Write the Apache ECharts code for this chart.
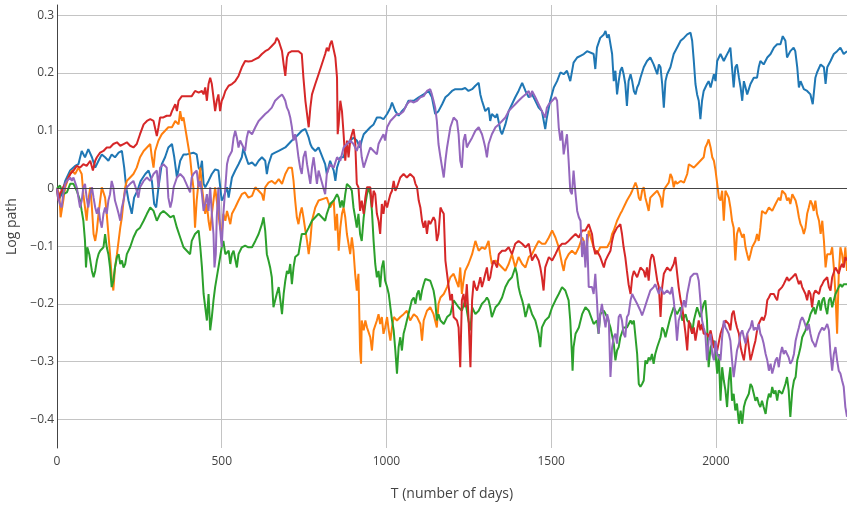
<!DOCTYPE html>
<html>
<head>
<meta charset="utf-8">
<script src="https://cdn.jsdelivr.net/npm/echarts@6/dist/echarts.min.js"></script>
<style>
  html, body { margin: 0; padding: 0; background: #fff; }
  #chart { width: 847px; height: 507px; }
</style>
</head>
<body>
<div id="chart"></div>
<script>
// [day, log path]
const pathBlue = [[0,0],[4,-0.021],[14,-0.010],[25,0.013],[40,0.031],[55,0.039],[65,0.042],[75,0.065],[85,0.054],[95,0.068],[106,0.054],[116,0.036],[126,0.048],[136,0.059],[146,0.054],[156,0.048],[166,0.059],[176,0.054],[187,0.062],[197,0.065],[204,0.036],[210,0.002],[217,-0.021],[227,-0.044],[234,-0.016],[244,-0.004],[254,0.013],[268,0.025],[278,0.031],[288,0.013],[295,-0.027],[301,-0.033],[308,0.002],[318,0.042],[328,0.054],[338,0.071],[349,0.077],[356,0.054],[364,0.019],[374,0.048],[384,0.059],[394,0.059],
  [414,0.062],[424,0.059],[430,0.036],[435,0.031],[440,0.048],[445,0.008],[450,0.002],[460,0.013],[470,0.025],[480,0.033],[490,0.031],[500,-0.021],[505,-0.016],[516,0.002],[521,-0.016],[531,0.019],[541,0.031],[551,0.042],[561,0.054],[566,0.071],[571,0.059],[581,0.042],[592,0.045],[602,0.039],[612,0.048],[622,0.054],[632,0.048],[637,0.025],[642,0.042],[652,0.059],[662,0.062],[673,0.065],[683,0.068],[693,0.071],[703,0.077],[713,0.083],[723,0.088],[733,0.094],[743,0.100],[754,0.103],[764,0.088],[769,0.077],[774,0.071],[784,0.065],[794,0.071],
  [814,0.042],[819,0.025],[829,0.048],[840,0.031],[845,0.013],[850,0.036],[860,0.054],[870,0.054],[880,0.077],[890,0.083],[900,0.088],[910,0.083],[920,0.071],[925,0.083],[931,0.094],[941,0.100],[951,0.106],[961,0.111],[971,0.123],[981,0.123],[991,0.120],[1002,0.129],[1012,0.140],[1017,0.149],[1027,0.134],[1037,0.126],[1047,0.134],[1057,0.140],[1067,0.152],[1083,0.152],[1098,0.158],[1113,0.163],[1128,0.169],[1138,0.158],[1148,0.129],[1158,0.134],[1169,0.146],[1179,0.158],[1189,0.163],[1199,0.169],
  [1209,0.172],[1229,0.172],[1239,0.174],[1249,0.169],[1260,0.172],[1270,0.178],[1280,0.183],[1285,0.163],[1290,0.152],[1300,0.134],[1310,0.140],[1315,0.117],[1320,0.129],[1331,0.123],[1336,0.129],[1346,0.100],[1351,0.094],[1361,0.111],[1371,0.134],[1381,0.146],[1391,0.158],[1401,0.169],[1412,0.183],[1422,0.169],[1432,0.158],[1442,0.163],[1452,0.152],[1462,0.140],[1472,0.134],[1482,0.103],[1487,0.123],[1497,0.152],[1508,0.175],[1518,0.186],[1528,0.201],[1538,0.198],[1548,0.204],[1558,0.186],[1568,0.218],[1579,0.227],[1589,0.230],[1599,0.233],[1609,0.238],
  [1629,0.233],[1634,0.207],[1639,0.244],[1649,0.261],[1660,0.267],[1665,0.273],[1670,0.261],[1675,0.267],[1685,0.233],[1690,0.186],[1695,0.204],[1700,0.163],[1705,0.186],[1710,0.204],[1715,0.210],[1720,0.198],[1725,0.181],[1730,0.143],[1735,0.186],[1741,0.198],[1746,0.186],[1751,0.169],[1756,0.163],[1761,0.175],[1766,0.181],[1771,0.192],[1781,0.210],[1791,0.221],[1801,0.227],[1811,0.215],[1822,0.198],[1827,0.215],[1832,0.210],[1837,0.181],[1842,0.140],[1847,0.186],[1852,0.198],[1862,0.210],[1872,0.233],[1882,0.244],[1893,0.256],[1903,0.261],[1913,0.267],[1923,0.270],[1928,0.256],[1933,0.221],[1938,0.181],[1943,0.163],[1948,0.152],[1953,0.120],[1958,0.152],[1963,0.169],[1968,0.175],[1973,0.181],[1978,0.186],[1984,0.175],[1994,0.198],[1999,0.186],[2004,0.221],[2014,0.233],[2024,0.221],
  [2029,0.227],[2039,0.238],[2044,0.244],[2049,0.210],[2054,0.175],[2059,0.210],[2064,0.215],[2070,0.192],[2075,0.175],[2080,0.152],[2085,0.186],[2090,0.175],[2095,0.163],[2105,0.181],[2115,0.192],[2125,0.192],[2130,0.210],[2135,0.221],[2145,0.215],[2156,0.227],[2166,0.233],[2176,0.244],[2186,0.250],[2196,0.250],[2203,0.264],[2211,0.256],[2216,0.227],[2221,0.224],[2226,0.238],[2236,0.244],[2241,0.238],[2247,0.210],[2252,0.175],[2257,0.186],[2267,0.172],[2277,0.169],[2287,0.163],[2294,0.146],[2302,0.192],[2307,0.201],[2318,0.215],[2328,0.210],[2333,0.181],[2338,0.210],[2348,0.221],[2358,0.233],[2368,0.238],[2378,0.244],[2388,0.233],[2398,0.238]];

const pathOrange = [[0,0],[7,-0.010],[11,-0.050],[19,-0.021],[25,0.002],[35,0.019],[45,0.031],[55,0.025],[65,0.036],[75,0.025],[80,-0.010],[85,-0.033],[90,-0.056],[95,-0.021],[101,0.002],[106,-0.033],[111,-0.079],[116,-0.091],[121,-0.073],[126,-0.044],[131,-0.021],[136,0.002],[146,-0.016],[151,-0.044],[156,-0.079],[161,-0.114],[166,-0.154],[171,-0.177],[176,-0.137],[182,-0.114],[187,-0.091],[192,-0.068],[197,-0.050],[202,-0.021],[207,0.002],[212,0.013],[222,0.019],[232,0.025],[242,0.036],[252,0.054],[263,0.065],[273,0.071],[283,0.077],[288,0.054],[293,0.036],[298,0.065],[308,0.083],[318,0.094],[328,0.100],[338,0.106],[349,0.106],[359,0.117],[369,0.111],[374,0.134],[379,0.117],[384,0.123],
  [404,0.054],[409,0.025],[414,0.002],[419,-0.068],[424,-0.021],[430,0.013],[435,0.036],[440,0.002],[445,-0.021],[450,-0.044],[455,-0.027],[460,-0.056],[465,-0.073],[470,-0.044],[475,-0.021],[480,0.002],[485,-0.021],[490,-0.044],[495,-0.068],[500,-0.079],[505,-0.044],[511,-0.056],[516,-0.039],[521,-0.050],[526,-0.062],[531,-0.044],[541,-0.033],[551,-0.021],[561,-0.010],[571,-0.007],[581,-0.016],[592,-0.013],[602,0.002],[612,-0.004],[622,-0.010],[627,-0.021],[632,0.002],[642,0.010],[652,0.013],[662,0.008],[673,0.016],[683,0.008],[693,0.025],[703,0.036],[708,0.039],[713,0.036],[718,0.013],[723,-0.021],[728,-0.050],[733,-0.062],[738,-0.044],[743,-0.033],[748,-0.050],[754,-0.073],[759,-0.091],[764,-0.114],[769,-0.091],[774,-0.056],[784,-0.033],[794,-0.021],
  [819,-0.016],[829,-0.033],[840,-0.021],[845,-0.073],[850,-0.044],[855,-0.108],[860,-0.068],[865,-0.044],[870,-0.033],[875,-0.050],[880,-0.079],[890,-0.114],[895,-0.085],[900,-0.108],[905,-0.148],[910,-0.177],[915,-0.148],[920,-0.281],[923,-0.304],[925,-0.229],[931,-0.246],[936,-0.229],[941,-0.241],[951,-0.258],[956,-0.281],[961,-0.246],[971,-0.229],[976,-0.218],[981,-0.235],[986,-0.223],[991,-0.252],[996,-0.241],[1002,-0.223],[1007,-0.246],[1012,-0.264],[1017,-0.241],[1022,-0.223],[1032,-0.229],[1042,-0.223],[1052,-0.218],[1062,-0.212],[1072,-0.229],[1083,-0.218],[1093,-0.223],[1103,-0.235],[1108,-0.264],[1113,-0.229],[1123,-0.212],[1133,-0.206],[1143,-0.218],[1153,-0.241],[1158,-0.200],[1164,-0.189],[1174,-0.183],[1184,-0.171],[1194,-0.154],[1204,-0.148],
  [1219,-0.171],[1224,-0.137],[1229,-0.183],[1234,-0.160],[1239,-0.143],[1249,-0.131],[1260,-0.114],[1270,-0.091],[1280,-0.108],[1290,-0.102],[1300,-0.105],[1310,-0.091],[1315,-0.114],[1320,-0.131],[1331,-0.125],[1341,-0.131],[1351,-0.137],[1361,-0.143],[1371,-0.131],[1381,-0.114],[1391,-0.137],[1401,-0.119],[1412,-0.131],[1422,-0.137],[1432,-0.119],[1442,-0.114],[1452,-0.102],[1462,-0.091],[1472,-0.096],[1482,-0.096],[1493,-0.085],[1503,-0.073],[1513,-0.085],[1523,-0.102],[1533,-0.131],[1538,-0.143],[1543,-0.125],[1553,-0.114],[1563,-0.108],[1574,-0.114],[1584,-0.102],[1594,-0.085],[1599,-0.091],[1604,-0.119],[1614,-0.073],
  [1629,-0.102],[1639,-0.114],[1649,-0.102],[1660,-0.102],[1670,-0.102],[1680,-0.091],[1685,-0.079],[1690,-0.073],[1700,-0.056],[1710,-0.044],[1715,-0.039],[1720,-0.039],[1730,-0.021],[1741,-0.010],[1746,-0.004],[1751,-0.007],[1756,0.010],[1761,0.002],[1766,-0.016],[1771,-0.021],[1776,-0.004],[1781,0.002],[1786,-0.016],[1791,-0.027],[1796,-0.039],[1801,-0.016],[1811,-0.010],[1822,-0.004],[1832,-0.016],[1837,-0.033],[1842,-0.004],[1847,0.002],[1852,0.002],[1857,0.010],[1862,0.025],[1867,0.019],[1872,0.002],[1877,0.013],[1882,0.008],[1893,0.013],[1903,0.010],[1913,0.025],[1918,0.042],[1923,0.045],[1933,0.036],[1943,0.042],[1953,0.048],[1963,0.054],[1968,0.071],[1973,0.077],[1978,0.085],[1984,0.071],[1989,0.054],[1994,0.048],[1999,0.031],[2004,0.008],[2009,-0.016],[2014,-0.021],[2019,-0.004],[2024,-0.056],
  [2029,-0.004],[2034,-0.004],[2039,-0.016],[2044,-0.033],[2049,-0.056],[2054,-0.068],[2059,-0.125],[2064,-0.079],[2070,-0.068],[2075,-0.068],[2080,-0.085],[2085,-0.079],[2090,-0.102],[2095,-0.114],[2100,-0.125],[2105,-0.114],[2110,-0.102],[2120,-0.091],[2125,-0.079],[2130,-0.091],[2135,-0.068],[2140,-0.039],[2151,-0.044],[2161,-0.033],[2171,-0.039],[2181,-0.027],[2191,-0.016],[2196,-0.021],[2201,-0.004],[2206,-0.001],[2211,-0.010],[2216,-0.021],[2221,-0.016],[2226,-0.027],[2232,-0.010],[2237,-0.007],[2242,-0.021],[2247,-0.033],[2252,-0.050],[2257,-0.062],[2262,-0.068],[2267,-0.079],[2272,-0.068],[2277,-0.044],[2282,-0.033],[2287,-0.021],[2292,-0.027],[2297,-0.039],[2302,-0.021],[2307,-0.044],[2313,-0.056],[2318,-0.079],[2323,-0.056],[2328,-0.091],[2333,-0.137],[2338,-0.114],[2348,-0.114],[2353,-0.102],[2358,-0.137],[2363,-0.183],[2368,-0.252],[2373,-0.148],[2378,-0.102],[2383,-0.114],[2388,-0.137],[2393,-0.102],[2398,-0.143]];

const pathGreen = [[0,0],[9,0.005],[19,-0.010],[30,-0.007],[40,0.008],[50,0.008],[60,-0.004],[70,-0.021],[75,-0.039],[80,-0.056],[85,-0.091],[88,-0.137],[92,-0.102],[98,-0.114],[106,-0.143],[111,-0.154],[116,-0.143],[121,-0.125],[126,-0.114],[131,-0.108],[141,-0.102],[146,-0.079],[151,-0.102],[156,-0.114],[161,-0.137],[166,-0.171],[171,-0.160],[176,-0.137],[182,-0.119],[187,-0.114],[192,-0.131],[197,-0.125],[202,-0.137],[207,-0.131],[212,-0.114],[222,-0.102],[232,-0.085],[242,-0.073],[252,-0.068],[263,-0.056],[273,-0.044],[283,-0.033],[293,-0.039],[303,-0.056],[313,-0.044],[323,-0.039],[333,-0.044],[344,-0.050],[354,-0.047],[364,-0.068],[374,-0.085],[384,-0.102],
  [404,-0.114],[409,-0.091],[419,-0.079],[430,-0.073],[435,-0.102],[440,-0.137],[445,-0.183],[450,-0.206],[455,-0.229],[460,-0.183],[465,-0.246],[470,-0.223],[475,-0.194],[480,-0.171],[490,-0.137],[500,-0.102],[505,-0.091],[511,-0.114],[521,-0.108],[526,-0.131],[531,-0.114],[536,-0.108],[546,-0.137],[551,-0.114],[561,-0.102],[571,-0.099],[581,-0.102],[592,-0.102],[602,-0.091],[612,-0.079],[622,-0.062],[627,-0.050],[632,-0.073],[637,-0.114],[642,-0.125],[647,-0.137],[652,-0.154],[657,-0.206],[662,-0.206],[667,-0.183],[673,-0.171],[678,-0.194],[683,-0.218],[688,-0.183],[693,-0.160],[698,-0.143],[703,-0.148],[708,-0.131],[713,-0.166],[718,-0.137],[723,-0.119],[733,-0.114],[738,-0.096],[743,-0.079],[754,-0.079],[764,-0.068],[774,-0.056],[784,-0.050],[794,-0.044],
  [814,-0.056],[819,-0.044],[829,-0.027],[840,-0.021],[850,-0.010],[855,-0.016],[860,-0.033],[865,-0.021],[870,-0.033],[875,-0.010],[880,0.008],[885,0.010],[890,0.002],[895,-0.004],[900,-0.033],[905,-0.050],[910,-0.068],[915,-0.044],[920,-0.079],[925,-0.091],[931,-0.050],[936,-0.027],[941,-0.010],[946,0.002],[951,-0.010],[956,-0.039],[961,-0.091],[966,-0.131],[971,-0.154],[976,-0.143],[981,-0.171],[986,-0.137],[991,-0.125],[996,-0.160],[1002,-0.171],[1007,-0.183],[1012,-0.206],[1017,-0.229],[1022,-0.246],[1027,-0.281],[1032,-0.321],[1037,-0.275],[1042,-0.258],[1047,-0.281],[1052,-0.252],[1057,-0.241],[1062,-0.229],[1072,-0.206],[1077,-0.194],[1083,-0.189],[1088,-0.200],[1093,-0.183],[1098,-0.177],[1103,-0.194],[1108,-0.177],[1113,-0.166],[1118,-0.157],[1123,-0.154],[1133,-0.160],[1143,-0.177],[1148,-0.194],[1153,-0.229],[1158,-0.218],[1164,-0.229],[1174,-0.235],[1184,-0.223],[1194,-0.218],[1204,-0.194],
  [1219,-0.206],[1229,-0.212],[1239,-0.194],[1249,-0.229],[1255,-0.246],[1260,-0.206],[1270,-0.218],[1280,-0.212],[1290,-0.200],[1300,-0.194],[1305,-0.189],[1310,-0.194],[1315,-0.206],[1320,-0.223],[1331,-0.206],[1341,-0.200],[1351,-0.189],[1361,-0.171],[1371,-0.160],[1381,-0.154],[1391,-0.137],[1396,-0.148],[1401,-0.171],[1406,-0.183],[1412,-0.194],[1417,-0.206],[1422,-0.223],[1427,-0.212],[1432,-0.200],[1442,-0.218],[1452,-0.229],[1462,-0.252],[1467,-0.275],[1472,-0.241],[1482,-0.229],[1493,-0.223],[1503,-0.206],[1513,-0.194],[1523,-0.183],[1533,-0.171],[1543,-0.177],[1553,-0.194],[1558,-0.229],[1563,-0.287],[1565,-0.316],[1568,-0.275],[1574,-0.252],[1584,-0.241],[1594,-0.218],[1604,-0.206],[1614,-0.212],
  [1629,-0.235],[1639,-0.229],[1644,-0.252],[1649,-0.218],[1660,-0.212],[1670,-0.223],[1680,-0.241],[1690,-0.269],[1695,-0.298],[1700,-0.281],[1705,-0.275],[1710,-0.258],[1720,-0.241],[1730,-0.241],[1741,-0.229],[1746,-0.235],[1751,-0.229],[1761,-0.287],[1766,-0.339],[1771,-0.344],[1776,-0.339],[1781,-0.333],[1786,-0.298],[1791,-0.304],[1796,-0.293],[1801,-0.298],[1806,-0.287],[1811,-0.304],[1816,-0.287],[1822,-0.275],[1832,-0.258],[1837,-0.241],[1842,-0.246],[1847,-0.258],[1852,-0.246],[1862,-0.223],[1872,-0.206],[1882,-0.218],[1893,-0.206],[1898,-0.229],[1903,-0.229],[1908,-0.218],[1913,-0.229],[1923,-0.235],[1928,-0.252],[1933,-0.229],[1943,-0.206],[1953,-0.223],[1963,-0.200],[1968,-0.194],[1973,-0.229],[1978,-0.310],[1984,-0.275],[1989,-0.269],[1994,-0.264],[1999,-0.287],[2004,-0.321],[2009,-0.287],[2014,-0.368],[2019,-0.310],[2024,-0.333],
  [2029,-0.350],[2034,-0.379],[2039,-0.333],[2044,-0.310],[2049,-0.368],[2054,-0.356],[2059,-0.385],[2064,-0.373],[2070,-0.408],[2075,-0.385],[2080,-0.408],[2085,-0.379],[2090,-0.368],[2100,-0.356],[2105,-0.339],[2110,-0.344],[2115,-0.356],[2120,-0.368],[2125,-0.362],[2130,-0.373],[2135,-0.379],[2140,-0.368],[2145,-0.379],[2151,-0.391],[2156,-0.368],[2161,-0.356],[2166,-0.362],[2171,-0.344],[2176,-0.356],[2181,-0.350],[2186,-0.368],[2191,-0.350],[2201,-0.356],[2211,-0.339],[2216,-0.327],[2221,-0.350],[2226,-0.396],[2232,-0.350],[2237,-0.333],[2242,-0.327],[2247,-0.298],[2252,-0.287],[2257,-0.275],[2262,-0.258],[2267,-0.252],[2272,-0.246],[2277,-0.235],[2282,-0.229],[2287,-0.218],[2292,-0.212],[2297,-0.206],[2302,-0.218],[2307,-0.206],[2313,-0.194],[2318,-0.212],[2323,-0.194],[2328,-0.189],[2333,-0.206],[2338,-0.218],[2343,-0.194],[2348,-0.189],[2353,-0.206],[2358,-0.194],[2363,-0.183],[2368,-0.183],[2373,-0.171],[2378,-0.166],[2383,-0.171],[2388,-0.166],[2393,-0.163],[2398,-0.166]];

const pathRed = [[0,0],[4,-0.021],[9,-0.010],[19,0.002],[30,0.013],[40,0.025],[50,0.031],[60,0.039],[70,0.036],[80,0.042],[90,0.039],[101,0.048],[109,0.031],[116,0.048],[121,0.054],[131,0.062],[141,0.065],[151,0.071],[161,0.071],[171,0.077],[182,0.080],[192,0.074],[202,0.077],[212,0.080],[222,0.074],[232,0.071],[242,0.077],[252,0.094],[263,0.111],[273,0.117],[283,0.120],[293,0.117],[303,0.091],[308,0.106],[313,0.123],[323,0.123],[333,0.126],[344,0.126],[349,0.134],[354,0.132],[359,0.146],[364,0.134],[369,0.152],[379,0.160],[384,0.158],
  [409,0.160],[419,0.169],[430,0.166],[440,0.169],[445,0.163],[450,0.175],[455,0.152],[460,0.181],[465,0.192],[470,0.181],[475,0.158],[480,0.134],[485,0.152],[490,0.163],[495,0.134],[500,0.152],[505,0.158],[511,0.169],[521,0.178],[531,0.181],[541,0.186],[551,0.195],[561,0.210],[571,0.221],[581,0.220],[592,0.221],[602,0.224],[612,0.227],[622,0.233],[632,0.238],[642,0.241],[652,0.247],[662,0.253],[667,0.261],[673,0.256],[678,0.247],[683,0.238],[688,0.215],[693,0.195],[698,0.227],[703,0.235],[713,0.238],[723,0.238],[733,0.238],[743,0.233],[748,0.192],[754,0.152],[759,0.129],[764,0.106],[769,0.140],[774,0.163],[784,0.181],[794,0.198],
  [814,0.233],[819,0.244],[824,0.238],[829,0.250],[834,0.256],[840,0.256],[845,0.227],[850,0.192],[852,0.094],[855,0.111],[860,0.152],[865,0.134],[870,0.094],[875,0.048],[880,0.083],[885,0.054],[890,0.083],[895,0.094],[900,0.103],[905,0.083],[910,0.008],[915,0.002],[920,-0.039],[925,-0.021],[931,-0.044],[936,-0.016],[941,0.002],[951,0.002],[956,-0.033],[961,-0.004],[966,-0.010],[971,-0.044],[976,-0.056],[981,-0.079],[986,-0.027],[991,-0.044],[996,-0.021],[1002,-0.033],[1007,-0.021],[1012,-0.010],[1017,-0.004],[1022,0.013],[1027,-0.004],[1032,0.002],[1042,0.019],[1052,0.025],[1062,0.019],[1072,0.025],[1083,0.019],[1088,0.008],[1093,0.002],[1098,-0.021],[1103,-0.033],[1108,-0.056],[1113,-0.068],[1118,-0.056],[1123,-0.079],[1128,-0.056],[1133,-0.062],[1143,-0.050],[1148,-0.056],[1153,-0.091],[1158,-0.079],[1164,-0.033],[1169,-0.039],[1174,-0.044],[1179,-0.125],[1184,-0.148],[1189,-0.171],[1194,-0.194],[1199,-0.183],[1204,-0.223],
  [1214,-0.229],[1219,-0.241],[1224,-0.310],[1229,-0.194],[1234,-0.183],[1239,-0.206],[1244,-0.166],[1249,-0.223],[1255,-0.310],[1260,-0.194],[1265,-0.160],[1270,-0.171],[1275,-0.177],[1280,-0.166],[1285,-0.154],[1290,-0.171],[1295,-0.160],[1300,-0.148],[1305,-0.137],[1310,-0.160],[1315,-0.154],[1320,-0.137],[1325,-0.125],[1331,-0.131],[1336,-0.137],[1341,-0.114],[1351,-0.108],[1361,-0.108],[1371,-0.102],[1381,-0.114],[1391,-0.096],[1401,-0.091],[1412,-0.096],[1422,-0.102],[1432,-0.096],[1442,-0.125],[1452,-0.114],[1462,-0.125],[1467,-0.137],[1472,-0.154],[1477,-0.177],[1482,-0.137],[1493,-0.119],[1503,-0.125],[1513,-0.114],[1523,-0.102],[1533,-0.096],[1543,-0.096],[1553,-0.091],[1563,-0.085],[1574,-0.079],[1584,-0.085],[1594,-0.073],[1604,-0.073],[1614,-0.062],
  [1624,-0.079],[1629,-0.102],[1634,-0.114],[1639,-0.108],[1649,-0.119],[1660,-0.137],[1665,-0.125],[1670,-0.119],[1680,-0.108],[1685,-0.091],[1690,-0.079],[1700,-0.068],[1710,-0.062],[1715,-0.079],[1720,-0.102],[1725,-0.119],[1730,-0.143],[1735,-0.166],[1741,-0.183],[1746,-0.154],[1751,-0.143],[1761,-0.154],[1771,-0.137],[1781,-0.143],[1786,-0.154],[1791,-0.137],[1796,-0.160],[1801,-0.125],[1806,-0.114],[1811,-0.119],[1816,-0.137],[1822,-0.160],[1827,-0.171],[1832,-0.223],[1837,-0.171],[1842,-0.148],[1852,-0.137],[1862,-0.143],[1872,-0.131],[1877,-0.119],[1882,-0.119],[1887,-0.171],[1893,-0.194],[1898,-0.206],[1903,-0.229],[1908,-0.252],[1913,-0.281],[1918,-0.229],[1923,-0.241],[1928,-0.252],[1933,-0.241],[1938,-0.264],[1943,-0.246],[1948,-0.229],[1953,-0.246],[1958,-0.235],[1963,-0.252],[1973,-0.252],[1978,-0.258],[1984,-0.246],[1994,-0.275],[2004,-0.281],[2014,-0.252],[2024,-0.235],
  [2029,-0.229],[2039,-0.235],[2044,-0.246],[2049,-0.218],[2054,-0.212],[2059,-0.229],[2064,-0.241],[2070,-0.252],[2075,-0.275],[2080,-0.287],[2085,-0.298],[2090,-0.275],[2095,-0.252],[2100,-0.275],[2105,-0.298],[2110,-0.287],[2115,-0.275],[2120,-0.264],[2125,-0.246],[2130,-0.235],[2135,-0.229],[2140,-0.223],[2145,-0.229],[2151,-0.218],[2156,-0.194],[2161,-0.189],[2166,-0.183],[2176,-0.183],[2181,-0.189],[2186,-0.194],[2191,-0.177],[2201,-0.171],[2206,-0.166],[2211,-0.166],[2216,-0.154],[2221,-0.160],[2232,-0.154],[2242,-0.148],[2247,-0.148],[2252,-0.166],[2257,-0.160],[2262,-0.171],[2267,-0.171],[2272,-0.183],[2277,-0.194],[2282,-0.177],[2287,-0.183],[2292,-0.206],[2297,-0.183],[2302,-0.177],[2313,-0.183],[2318,-0.171],[2323,-0.166],[2328,-0.160],[2333,-0.160],[2338,-0.154],[2343,-0.171],[2348,-0.177],[2353,-0.154],[2358,-0.154],[2363,-0.137],[2373,-0.148],[2378,-0.137],[2383,-0.131],[2388,-0.137],[2393,-0.119],[2398,-0.125]];

const pathPurple = [[0,0],[4,-0.016],[9,-0.027],[14,-0.033],[19,-0.010],[25,0.008],[30,0.013],[35,0.010],[40,0.019],[45,0.013],[50,0.019],[60,0.002],[65,-0.016],[70,-0.033],[75,-0.021],[80,0.002],[85,0.008],[90,-0.016],[95,-0.033],[101,-0.010],[106,0.002],[111,-0.016],[116,-0.033],[121,-0.044],[126,-0.033],[131,-0.056],[136,-0.068],[141,-0.044],[146,-0.033],[151,-0.044],[156,-0.021],[161,-0.010],[166,0.013],[171,0.002],[176,-0.021],[182,-0.033],[187,-0.044],[192,-0.056],[197,-0.033],[202,-0.021],[207,-0.004],[212,0.002],[222,0.008],[232,0.013],[242,-0.004],[247,-0.016],[252,0.002],[263,0.013],[273,0.019],[283,0.013],[293,0.025],[303,0.031],[308,0.002],[313,0.036],[323,0.042],[333,0.036],[338,-0.016],[344,-0.033],[349,-0.021],[354,0.002],[364,0.019],[374,0.025],[384,0.019],
  [404,-0.007],[409,0.019],[414,0.025],[424,0.031],[430,0.002],[435,0.013],[440,-0.010],[445,-0.039],[450,-0.027],[455,-0.010],[460,-0.039],[465,0.002],[470,-0.044],[475,-0.079],[478,-0.137],[482,-0.114],[485,-0.050],[490,0.002],[495,-0.068],[500,-0.102],[505,-0.044],[511,0.002],[516,0.042],[521,0.054],[531,0.065],[536,0.088],[541,0.100],[546,0.088],[551,0.071],[556,0.083],[561,0.077],[566,0.071],[571,0.065],[576,0.088],[581,0.100],[592,0.094],[602,0.106],[612,0.117],[622,0.123],[632,0.129],[642,0.134],[652,0.140],[662,0.152],[673,0.158],[683,0.163],[688,0.158],[693,0.152],[698,0.140],[703,0.134],[708,0.123],[713,0.106],[718,0.083],[723,0.094],[728,0.077],[733,0.054],[738,0.036],[743,0.025],[748,0.054],[754,0.065],[759,0.042],[764,0.025],[769,0.008],[774,0.036],[779,0.054],[784,0.031],[789,0.008],[794,0.031],
  [814,-0.010],[819,0.025],[829,0.042],[840,0.036],[850,0.054],[860,0.048],[870,0.071],[880,0.077],[890,0.083],[900,0.077],[910,0.065],[920,0.083],[925,0.054],[931,0.036],[941,0.054],[951,0.071],[961,0.065],[971,0.059],[976,0.077],[981,0.083],[991,0.094],[996,0.083],[1002,0.106],[1012,0.117],[1022,0.123],[1032,0.129],[1042,0.129],[1052,0.134],[1062,0.146],[1072,0.152],[1083,0.149],[1093,0.152],[1103,0.158],[1113,0.160],[1123,0.169],[1133,0.172],[1138,0.163],[1143,0.152],[1148,0.140],[1153,0.117],[1158,0.077],[1164,0.054],[1169,0.036],[1174,0.019],[1179,0.048],[1184,0.071],[1194,0.106],[1204,0.123],
  [1214,0.117],[1219,0.094],[1224,0.048],[1229,0.036],[1234,0.083],[1239,0.094],[1244,0.071],[1249,0.077],[1260,0.088],[1270,0.100],[1280,0.106],[1290,0.094],[1295,0.083],[1300,0.071],[1305,0.054],[1310,0.077],[1320,0.094],[1331,0.106],[1341,0.111],[1351,0.117],[1361,0.123],[1371,0.134],[1381,0.140],[1391,0.146],[1401,0.152],[1412,0.158],[1422,0.163],[1432,0.169],[1437,0.158],[1442,0.169],[1452,0.158],[1462,0.146],[1472,0.134],[1482,0.123],[1487,0.140],[1493,0.146],[1503,0.152],[1513,0.158],[1518,0.152],[1523,0.106],[1528,0.083],[1533,0.100],[1538,0.059],[1543,0.077],[1548,0.094],[1553,0.048],[1558,-0.004],[1563,-0.010],[1568,0.031],[1574,-0.010],[1579,-0.039],[1584,-0.050],[1589,-0.056],[1594,-0.119],[1599,-0.091],[1604,-0.137],[1609,-0.079],[1614,-0.171],
  [1624,-0.171],[1629,-0.183],[1634,-0.148],[1639,-0.194],[1644,-0.252],[1649,-0.218],[1654,-0.200],[1660,-0.223],[1665,-0.241],[1670,-0.218],[1675,-0.229],[1680,-0.327],[1685,-0.275],[1690,-0.258],[1695,-0.252],[1700,-0.269],[1705,-0.223],[1710,-0.218],[1715,-0.229],[1720,-0.252],[1725,-0.258],[1730,-0.223],[1735,-0.218],[1741,-0.194],[1746,-0.183],[1751,-0.189],[1761,-0.200],[1771,-0.212],[1776,-0.220],[1781,-0.212],[1791,-0.194],[1801,-0.177],[1811,-0.171],[1816,-0.166],[1822,-0.166],[1827,-0.183],[1832,-0.171],[1837,-0.177],[1842,-0.183],[1852,-0.177],[1862,-0.183],[1867,-0.171],[1872,-0.194],[1877,-0.223],[1882,-0.264],[1887,-0.229],[1893,-0.218],[1898,-0.206],[1903,-0.194],[1908,-0.206],[1913,-0.183],[1923,-0.154],[1933,-0.148],[1943,-0.148],[1948,-0.160],[1953,-0.194],[1958,-0.229],[1963,-0.241],[1968,-0.252],[1973,-0.298],[1978,-0.264],[1984,-0.252],[1989,-0.287],[1994,-0.298],[1999,-0.264],[2004,-0.287],[2014,-0.298],[2019,-0.258],[2024,-0.229],
  [2029,-0.241],[2034,-0.246],[2039,-0.252],[2044,-0.264],[2049,-0.298],[2054,-0.327],[2059,-0.304],[2064,-0.281],[2070,-0.269],[2075,-0.252],[2080,-0.246],[2085,-0.258],[2090,-0.269],[2095,-0.252],[2100,-0.246],[2105,-0.241],[2110,-0.229],[2115,-0.246],[2120,-0.241],[2125,-0.246],[2130,-0.235],[2135,-0.252],[2140,-0.258],[2145,-0.269],[2151,-0.287],[2156,-0.298],[2161,-0.316],[2166,-0.304],[2171,-0.321],[2176,-0.310],[2181,-0.298],[2186,-0.293],[2191,-0.310],[2196,-0.287],[2201,-0.275],[2206,-0.287],[2211,-0.281],[2216,-0.287],[2221,-0.293],[2226,-0.304],[2232,-0.298],[2237,-0.287],[2242,-0.264],[2247,-0.252],[2252,-0.241],[2257,-0.229],[2262,-0.223],[2267,-0.229],[2272,-0.229],[2277,-0.246],[2282,-0.235],[2287,-0.252],[2292,-0.264],[2297,-0.269],[2302,-0.275],[2307,-0.264],[2313,-0.252],[2318,-0.246],[2323,-0.241],[2328,-0.246],[2333,-0.241],[2338,-0.235],[2343,-0.246],[2348,-0.287],[2353,-0.316],[2358,-0.287],[2363,-0.275],[2368,-0.298],[2373,-0.316],[2378,-0.321],[2383,-0.333],[2388,-0.344],[2393,-0.379],[2398,-0.396]];

const paths = [pathBlue, pathOrange, pathGreen, pathRed, pathPurple];
const colors = ["#1f77b4", "#ff7f0e", "#2ca02c", "#d62728", "#9467bd"];
const xTitle = "T (number of days)";
const yTitle = "Log path";

const chart = echarts.init(document.getElementById("chart"));

const series = paths.map((p, i) => ({
  type: "line",
  data: p,
  showSymbol: false,
  symbol: "none",
  animation: false,
  lineStyle: { width: 2, color: colors[i] },
  itemStyle: { color: colors[i] },
}));
// zero line under the paths
series[0].markLine = {
  silent: true,
  symbol: "none",
  label: { show: false },
  lineStyle: { color: "#444", width: 1, type: "solid" },
  data: [{ yAxis: 0 }],
};

chart.setOption({
  animation: false,
  backgroundColor: "#fff",
  grid: { left: 57, right: 0, top: 5, bottom: 59, containLabel: false, outerBoundsMode: "none" },
  xAxis: {
    type: "value",
    min: 0,
    max: 2398,
    interval: 500,
    name: xTitle,
    nameLocation: "middle",
    nameGap: 39,
    nameTextStyle: { color: "#444", fontSize: 14, fontFamily: "Open Sans" },
    axisLine: { show: false },
    axisTick: { show: false },
    axisLabel: {
      color: "#444",
      fontSize: 12,
      fontFamily: "Open Sans",
      margin: 8,
      showMaxLabel: false,
      formatter: (v) => String(v),
    },
    splitLine: { show: true, showMaxLine: false, lineStyle: { color: "#c4c4c4", width: 1 } },
  },
  yAxis: {
    type: "value",
    min: -0.45,
    max: 0.318,
    splitNumber: 8,
    name: yTitle,
    nameLocation: "middle",
    nameGap: 26,
    nameTextStyle: { color: "#444", fontSize: 14, fontFamily: "Open Sans" },
    axisLine: { show: true, onZero: false, lineStyle: { color: "#444", width: 1 } },
    axisTick: { show: false },
    axisLabel: {
      color: "#444",
      fontSize: 12,
      fontFamily: "Open Sans",
      margin: 3,
      showMinLabel: false,
      showMaxLabel: false,
      formatter: (v) => String(Math.round(v * 10) / 10).replace("-", "\u2212"),
    },
    splitLine: { show: true, showMinLine: false, showMaxLine: false, lineStyle: { color: "#c4c4c4", width: 1 } },
  },
  series: series,
});
</script>
</body>
</html>
